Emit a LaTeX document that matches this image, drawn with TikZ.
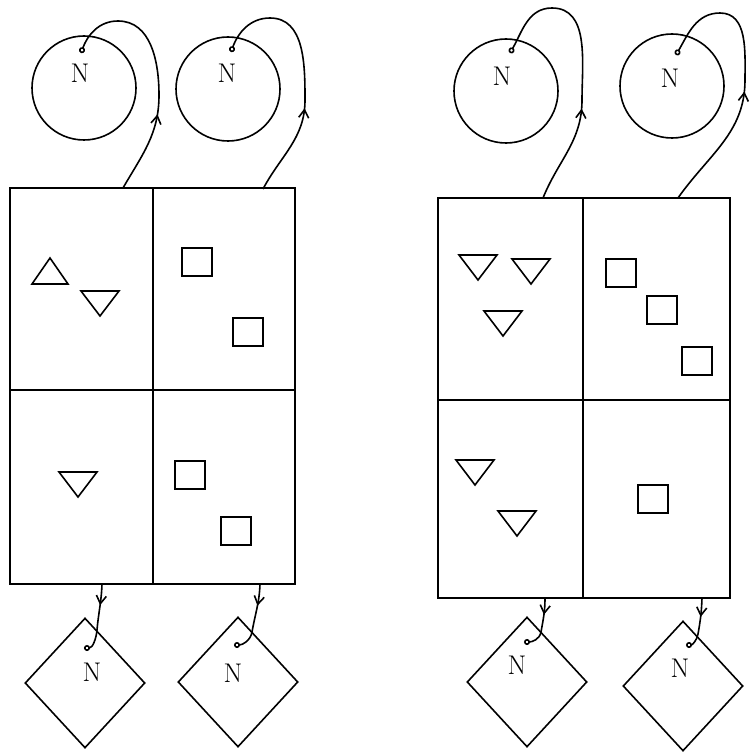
\documentclass[tikz,border=0pt]{standalone}
\usepackage{fontspec}
\usetikzlibrary{shapes.geometric,arrows.meta,decorations.markings}
\tikzset{
  ring/.style={draw, circle, minimum size=104pt, inner sep=0pt},
  rhomb/.style={draw, diamond, minimum width=120pt, minimum height=130pt, inner sep=0pt},
  lbl/.style={font=\fontsize{27}{27}\selectfont, inner sep=0pt},
  wire/.style={-{Circle[open,length=6pt,width=6pt]}, postaction={decorate},
    decoration={markings, mark=at position #1 with {\arrow{Straight Barb[length=8pt,width=10pt]}}}},
  wire/.default=0.33
}
\begin{document}
\begin{tikzpicture}[x=1pt, y=1pt, line width=1.6pt]
    \useasboundingbox (0,0) rectangle (750,-754);
    % left sheet
    \draw (10,-188) rectangle (295,-584);
    \draw (153,-188) -- (153,-584);
    \draw (10,-390) -- (295,-390);
    % right sheet
    \draw (438,-198) rectangle (730,-598);
    \draw (583,-198) -- (583,-598);
    \draw (438,-400) -- (730,-400);
    % pieces in the cells
    \draw (32,-284) -- (68,-284) -- (50,-258) -- cycle;
    \foreach \x/\y in {100/291, 78/472, 478/255, 531/259, 503/311, 475/460, 517/511} {
        \draw (\x-19,-\y) -- (\x+19,-\y) -- (\x,-\y-25) -- cycle;
    }
    \foreach \x/\y in {197/262, 248/332, 190/475, 236/531, 621/273, 662/310, 697/361, 653/499} {
        \draw (\x-15,-\y+14) rectangle (\x+15,-\y-14);
    }
    % circles above
    \node[ring] (c1) at (84,-88) {};
    \node[ring] (c2) at (228,-89) {};
    \node[ring] (c3) at (506,-91) {};
    \node[ring] (c4) at (672,-86) {};
    \node[lbl] (n1) at (80,-73) {N};
    \node[lbl] (n2) at (227,-73) {N};
    \node[lbl] (n3) at (502,-76) {N};
    \node[lbl] (n4) at (670,-78) {N};
    % diamonds below
    \node[rhomb] (d1) at (85,-683) {};
    \node[rhomb] (d2) at (238,-682) {};
    \node[rhomb] (d3) at (527,-682) {};
    \node[rhomb] (d4) at (683,-686) {};
    \node[lbl] (m1) at (92,-672) {N};
    \node[lbl] (m2) at (233,-673) {N};
    \node[lbl] (m3) at (517,-665) {N};
    \node[lbl] (m4) at (680,-668) {N};
    % ends of the wires
    \coordinate (s1) at (123,-188);
    \coordinate (s2) at (263,-189);
    \coordinate (s3) at (543,-198);
    \coordinate (s4) at (678,-198);
    \coordinate (t1) at (81,-53);
    \coordinate (t2) at (231,-52);
    \coordinate (t3) at (510,-53);
    \coordinate (t4) at (676,-55);
    \coordinate (b1) at (102,-584);
    \coordinate (b2) at (260,-584);
    \coordinate (b3) at (545,-598);
    \coordinate (b4) at (702,-598);
    \coordinate (e1) at (84,-648);
    \coordinate (e2) at (234,-645);
    \coordinate (e3) at (524,-642);
    \coordinate (e4) at (686,-645);
    % wires up to the circles
    \draw[wire] (s1) to[out=60,in=-90] (159,-95) to[out=90,in=0] (118,-21) to[out=180,in=70] (t1);
    \draw[wire=0.36] (s2) to[out=62,in=-90] (305,-100) to[out=90,in=0] (270,-18) to[out=180,in=70] (t2);
    \draw[wire=0.35] (s3) to[out=68,in=-90] (582,-100) to[out=90,in=0] (552,-8) to[out=180,in=60] (t3);
    \draw[wire=0.45] (s4) to[out=55,in=-90] (745,-80) to[out=90,in=0] (720,-13) to[out=180,in=60] (t4);
    % wires down to the diamonds
    \draw[wire=0.3] (b1) to[out=-92,in=85] (97,-630) to[out=-95,in=0] (e1);
    \draw[wire=0.3] (b2) to[out=-92,in=80] (252,-632) to[out=-100,in=0] (e2);
    \draw[wire=0.3] (b3) to[out=-90,in=80] (541,-632) to[out=-100,in=0] (e3);
    \draw[wire=0.35] (b4) to[out=-92,in=80] (698,-634) to[out=-100,in=0] (e4);
\end{tikzpicture}
\end{document}
